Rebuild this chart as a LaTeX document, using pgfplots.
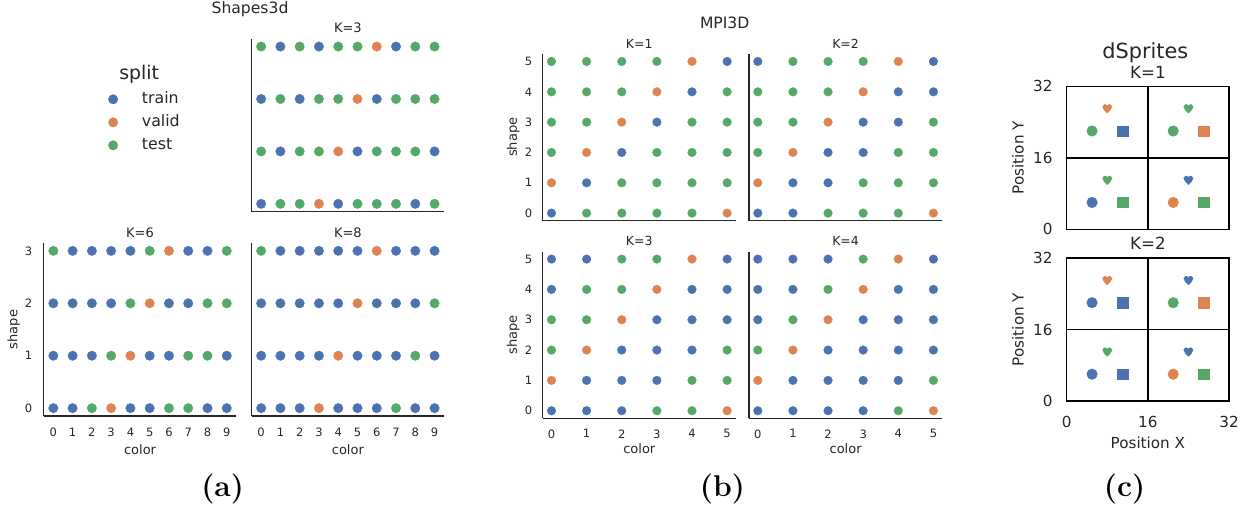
\documentclass[border=0pt]{standalone}
\usepackage{fontspec}
\setsansfont{DejaVu Sans}
\usepackage{pgfplots}
\pgfplotsset{compat=1.18}
\definecolor{sbB}{HTML}{4C72B0}
\definecolor{sbO}{HTML}{DD8452}
\definecolor{sbG}{HTML}{55A868}
\definecolor{txt}{HTML}{262626}
\newcommand\fs[1]{\fontsize{#1}{#1}\selectfont\sffamily}

\pgfdeclareplotmark{heart}{%
  \pgfpathmoveto{\pgfpoint{0pt}{-0.95\pgfplotmarksize}}%
  \pgfpathcurveto{\pgfpoint{-0.35\pgfplotmarksize}{-0.55\pgfplotmarksize}}{\pgfpoint{-1\pgfplotmarksize}{-0.15\pgfplotmarksize}}{\pgfpoint{-1\pgfplotmarksize}{0.4\pgfplotmarksize}}%
  \pgfpathcurveto{\pgfpoint{-1\pgfplotmarksize}{0.85\pgfplotmarksize}}{\pgfpoint{-0.4\pgfplotmarksize}{1.1\pgfplotmarksize}}{\pgfpoint{0pt}{0.6\pgfplotmarksize}}%
  \pgfpathcurveto{\pgfpoint{0.4\pgfplotmarksize}{1.1\pgfplotmarksize}}{\pgfpoint{1\pgfplotmarksize}{0.85\pgfplotmarksize}}{\pgfpoint{1\pgfplotmarksize}{0.4\pgfplotmarksize}}%
  \pgfpathcurveto{\pgfpoint{1\pgfplotmarksize}{-0.15\pgfplotmarksize}}{\pgfpoint{0.35\pgfplotmarksize}{-0.55\pgfplotmarksize}}{\pgfpoint{0pt}{-0.95\pgfplotmarksize}}%
  \pgfpathclose
  \pgfusepathqfillstroke
}

\pgfplotsset{
  every axis title shift=0pt,
  sb/.style={scale only axis, anchor=south west, clip=false,
    axis x line*=bottom, axis y line*=left,
    axis line style={draw=txt, line width=1.25pt, -},
    major tick length=0pt,
    tick label style={text=txt, inner sep=0pt},
    /pgf/number format/assume math mode=true,
    label style={text=txt},
    title style={text=txt, at={(axis description cs:0.5,1)}, anchor=base},
  },
  sh3/.style={sb, width=192.7pt, height=173pt,
    xmin=-0.5, xmax=9.5, ymin=-0.15, ymax=3.15,
    tick label style={font=\fs{11.5}},
    label style={font=\fs{13}},
    title style={font=\fs{13}, yshift=5.8pt},
    xticklabel style={anchor=north, yshift=-11.5pt},
    yticklabel style={anchor=east, xshift=-11.2pt},
    xlabel style={at={(axis description cs:0.5,-0.1925)}, anchor=center},
    ylabel style={at={(axis description cs:-0.1557,0.5)}, anchor=center},
  },
  mpi/.style={sb, width=193.2pt, height=166.8pt,
    xmin=-0.25, xmax=5.25, ymin=-0.25, ymax=5.25,
    tick label style={font=\fs{11.5}},
    label style={font=\fs{13}},
    title style={font=\fs{12.5}, yshift=5.7pt},
    xticklabel style={anchor=north, yshift=-11pt},
    yticklabel style={anchor=east, xshift=-10.4pt},
    xlabel style={at={(axis description cs:0.5,-0.18)}, anchor=center},
    ylabel style={at={(axis description cs:-0.152,0.5)}, anchor=center},
  },
  ds/.style={scale only axis, anchor=south west, clip=false,
    width=162.3pt, height=143pt,
    xmin=0, xmax=32, ymin=0, ymax=32,
    xtick={0,16,32}, ytick={0,16,32},
    axis line style={black, line width=1.4pt},
    major tick length=0pt,
    /pgf/number format/assume math mode=true,
    tick label style={font=\fs{15.2}, text=txt, inner sep=0pt},
    xticklabel style={anchor=north, yshift=-15.5pt},
    yticklabel style={anchor=east, xshift=-14pt},
    label style={font=\fs{15.2}, text=txt},
    xlabel style={at={(axis description cs:0.5,-0.294)}, anchor=center},
    ylabel style={at={(axis description cs:-0.300,0.5)}, anchor=center},
    title style={font=\fs{16.7}, text=txt, at={(axis description cs:0.5,1)}, anchor=base},
  },
  divl/.style={black, line width=1.4pt, forget plot, mark=none},
  pB/.style={only marks, mark=*, color=sbB, mark size=#1, mark options={line width=0.2pt}},
  pO/.style={only marks, mark=*, color=sbO, mark size=#1, mark options={line width=0.2pt}},
  pG/.style={only marks, mark=*, color=sbG, mark size=#1, mark options={line width=0.2pt}},
}

\begin{document}
\begin{tikzpicture}
\useasboundingbox (0pt,0pt) rectangle (1250pt,-516pt);

% ---------------- Shapes3d ----------------
\node[font=\fs{15.6}, text=txt, anchor=base] at (250pt,-14pt) {Shapes3d};
\node[font=\fs{18.9}, text=txt, anchor=base] at (139.2pt,-79.3pt) {split};

% K=3
\begin{axis}[sh3, at={(251.5pt,-211.7pt)}, xtick=\empty, ytick=\empty, title={K=3},
  legend style={at={(axis description cs:-0.743,0.690)}, anchor=north west, draw=none, fill=none,
    inner sep=0pt, outer sep=0pt, font=\fs{15.8}, text=txt,
    nodes={inner sep=0pt, text height=11pt, text depth=3pt}, row sep=9pt,
    /tikz/every odd column/.append style={column sep=24pt}},
  legend cell align=left,
  legend image code/.code={\draw[mark repeat=2,mark phase=2,#1] plot coordinates {(0pt,0pt)(5pt,0pt)(10pt,0pt)};}]
\addplot[pB=4.8pt] coordinates {(1,3)(3,3)(7,3)(0,2)(2,2)(6,2)(1,1)(5,1)(9,1)(0,0)(4,0)(8,0)};
\addlegendentry{train}
\addplot[pO=4.8pt] coordinates {(6,3)(5,2)(4,1)(3,0)};
\addlegendentry{valid}
\addplot[pG=4.8pt] coordinates {(0,3)(2,3)(4,3)(5,3)(8,3)(9,3)(1,2)(3,2)(4,2)(7,2)(8,2)(9,2)(0,1)(2,1)(3,1)(6,1)(7,1)(8,1)(1,0)(2,0)(5,0)(6,0)(7,0)(9,0)};
\addlegendentry{test}
\end{axis}

% K=6
\begin{axis}[sh3, at={(43.7pt,-416pt)}, xtick={0,...,9}, ytick={0,...,3}, title={K=6}, xlabel={color}, ylabel={shape}]
\addplot[pB=4.8pt] coordinates {(1,3)(2,3)(3,3)(4,3)(7,3)(8,3)(0,2)(1,2)(2,2)(3,2)(6,2)(7,2)(0,1)(1,1)(2,1)(5,1)(6,1)(9,1)(0,0)(1,0)(4,0)(5,0)(8,0)(9,0)};
\addplot[pO=4.8pt] coordinates {(6,3)(5,2)(4,1)(3,0)};
\addplot[pG=4.8pt] coordinates {(0,3)(5,3)(9,3)(4,2)(8,2)(9,2)(3,1)(7,1)(8,1)(2,0)(6,0)(7,0)};
\end{axis}

% K=8
\begin{axis}[sh3, at={(251.5pt,-416pt)}, xtick={0,...,9}, ytick=\empty, title={K=8}, xlabel={color}]
\addplot[pB=4.8pt] coordinates {(1,3)(2,3)(3,3)(4,3)(5,3)(7,3)(8,3)(9,3)(0,2)(1,2)(2,2)(3,2)(4,2)(6,2)(7,2)(8,2)(0,1)(1,1)(2,1)(3,1)(5,1)(6,1)(7,1)(9,1)(0,0)(1,0)(2,0)(4,0)(5,0)(6,0)(8,0)(9,0)};
\addplot[pO=4.8pt] coordinates {(6,3)(5,2)(4,1)(3,0)};
\addplot[pG=4.8pt] coordinates {(0,3)(9,2)(8,1)(7,0)};
\end{axis}

% ---------------- MPI3D ----------------
\node[font=\fs{15.6}, text=txt, anchor=base] at (724.7pt,-28.7pt) {MPI3D};

% K=1
\begin{axis}[mpi, at={(542.7pt,-220.7pt)}, xtick=\empty, ytick={0,...,5}, title={K=1}, ylabel={shape}]
\addplot[pB=4.4pt] coordinates {(5,5)(4,4)(3,3)(2,2)(1,1)(0,0)};
\addplot[pO=4.4pt] coordinates {(4,5)(3,4)(2,3)(1,2)(0,1)(5,0)};
\addplot[pG=4.4pt] coordinates {(0,5)(1,5)(2,5)(3,5)(0,4)(1,4)(2,4)(5,4)(0,3)(1,3)(4,3)(5,3)(0,2)(3,2)(4,2)(5,2)(2,1)(3,1)(4,1)(5,1)(1,0)(2,0)(3,0)(4,0)};
\end{axis}

% K=2
\begin{axis}[mpi, at={(749pt,-220.7pt)}, xtick=\empty, ytick=\empty, title={K=2}]
\addplot[pB=4.4pt] coordinates {(0,5)(5,5)(4,4)(5,4)(3,3)(4,3)(2,2)(3,2)(1,1)(2,1)(0,0)(1,0)};
\addplot[pO=4.4pt] coordinates {(4,5)(3,4)(2,3)(1,2)(0,1)(5,0)};
\addplot[pG=4.4pt] coordinates {(1,5)(2,5)(3,5)(0,4)(1,4)(2,4)(0,3)(1,3)(5,3)(0,2)(4,2)(5,2)(3,1)(4,1)(5,1)(2,0)(3,0)(4,0)};
\end{axis}

% K=3
\begin{axis}[mpi, at={(542.7pt,-418.3pt)}, xtick={0,...,5}, ytick={0,...,5}, title={K=3}, xlabel={color}, ylabel={shape}]
\addplot[pB=4.4pt] coordinates {(0,5)(1,5)(5,5)(0,4)(4,4)(5,4)(3,3)(4,3)(5,3)(2,2)(3,2)(4,2)(1,1)(2,1)(3,1)(0,0)(1,0)(2,0)};
\addplot[pO=4.4pt] coordinates {(4,5)(3,4)(2,3)(1,2)(0,1)(5,0)};
\addplot[pG=4.4pt] coordinates {(2,5)(3,5)(1,4)(2,4)(0,3)(1,3)(0,2)(5,2)(4,1)(5,1)(3,0)(4,0)};
\end{axis}

% K=4
\begin{axis}[mpi, at={(749pt,-418.3pt)}, xtick={0,...,5}, ytick=\empty, title={K=4}, xlabel={color}]
\addplot[pB=4.4pt] coordinates {(0,5)(1,5)(2,5)(5,5)(0,4)(1,4)(4,4)(5,4)(0,3)(3,3)(4,3)(5,3)(2,2)(3,2)(4,2)(5,2)(1,1)(2,1)(3,1)(4,1)(0,0)(1,0)(2,0)(3,0)};
\addplot[pO=4.4pt] coordinates {(4,5)(3,4)(2,3)(1,2)(0,1)(5,0)};
\addplot[pG=4.4pt] coordinates {(3,5)(2,4)(1,3)(0,2)(5,1)(4,0)};
\end{axis}

% ---------------- dSprites ----------------
\node[font=\fs{20.8}, text=txt, anchor=base] at (1145.3pt,-59pt) {dSprites};

% K=1
\begin{axis}[ds, at={(1066.7pt,-229.3pt)}, xticklabels={}, title={K=1}, title style={yshift=7.7pt}, ylabel={Position Y}]
\addplot[divl] coordinates {(16,0)(16,32)};
\addplot[divl] coordinates {(0,16)(32,16)};
\addplot[only marks, mark=*, color=sbB, mark size=5.3pt] coordinates {(5,6)};
\addplot[only marks, mark=*, color=sbO, mark size=5.3pt] coordinates {(21,6)};
\addplot[only marks, mark=*, color=sbG, mark size=5.3pt] coordinates {(5,22)(21,22)};
\addplot[only marks, mark=square*, color=sbB, mark size=5.2pt] coordinates {(11,22)};
\addplot[only marks, mark=square*, color=sbO, mark size=5.2pt] coordinates {(27,22)};
\addplot[only marks, mark=square*, color=sbG, mark size=5.2pt] coordinates {(11,6)(27,6)};
\addplot[only marks, mark=heart, color=sbB, mark size=4.7pt] coordinates {(24,11)};
\addplot[only marks, mark=heart, color=sbO, mark size=4.7pt] coordinates {(8,27)};
\addplot[only marks, mark=heart, color=sbG, mark size=4.7pt] coordinates {(24,27)(8,11)};
\end{axis}

% K=2
\begin{axis}[ds, at={(1066.7pt,-401pt)}, title={K=2}, title style={yshift=8.8pt}, xlabel={Position X}, ylabel={Position Y}]
\addplot[divl] coordinates {(16,0)(16,32)};
\addplot[divl] coordinates {(0,16)(32,16)};
\addplot[only marks, mark=*, color=sbB, mark size=5.3pt] coordinates {(5,22)(5,6)};
\addplot[only marks, mark=*, color=sbO, mark size=5.3pt] coordinates {(21,6)};
\addplot[only marks, mark=*, color=sbG, mark size=5.3pt] coordinates {(21,22)};
\addplot[only marks, mark=square*, color=sbB, mark size=5.2pt] coordinates {(11,22)(11,6)};
\addplot[only marks, mark=square*, color=sbO, mark size=5.2pt] coordinates {(27,22)};
\addplot[only marks, mark=square*, color=sbG, mark size=5.2pt] coordinates {(27,6)};
\addplot[only marks, mark=heart, color=sbB, mark size=4.7pt] coordinates {(24,27)(24,11)};
\addplot[only marks, mark=heart, color=sbO, mark size=4.7pt] coordinates {(8,27)};
\addplot[only marks, mark=heart, color=sbG, mark size=4.7pt] coordinates {(8,11)};
\end{axis}

% ---------------- sub-labels ----------------
\node[font=\fontsize{30}{30}\selectfont\bfseries, anchor=base] at (222.7pt,-496.5pt) {(a)};
\node[font=\fontsize{30}{30}\selectfont\bfseries, anchor=base] at (722.5pt,-496.5pt) {(b)};
\node[font=\fontsize{30}{30}\selectfont\bfseries, anchor=base] at (1124.5pt,-496.5pt) {(c)};
\end{tikzpicture}
\end{document}
